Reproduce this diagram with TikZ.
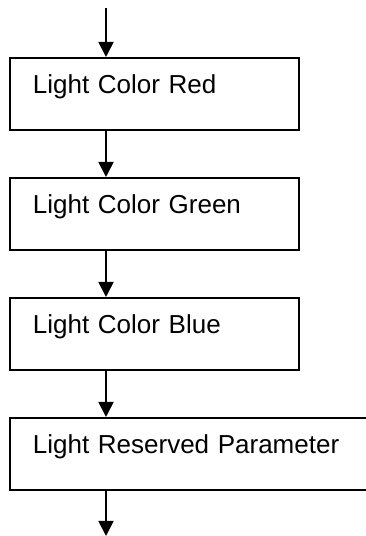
\documentclass[tikz,border=0pt]{standalone}
\usepackage{fontspec}
\setmainfont{Liberation Sans}
\usetikzlibrary{arrows.meta}
\tikzset{
  stepbox/.style={draw=black, line width=1.8pt, rectangle, anchor=north west,
    minimum height=72pt, inner xsep=23pt, inner ysep=0pt, align=left,
    text height=19pt, text depth=19pt,
    font=\fontsize{26}{30}\selectfont},
  arr/.style={draw=black, line width=1.8pt, -{Triangle[length=15pt,width=15pt]}}
}
\begin{document}
\begin{tikzpicture}[x=1pt,y=1pt]
\useasboundingbox (0,0) rectangle (366,536);
\node[stepbox, text width=243pt] (b1) at (9,479) {Light Color Red};
\node[stepbox, text width=243pt] (b2) at (9,359) {Light Color Green};
\node[stepbox, text width=243pt] (b3) at (9,239) {Light Color Blue};
\node[stepbox, text width=317pt] (b4) at (9,119) {Light Reserved Parameter};
\coordinate (start) at (106,528);
\coordinate (finish) at (106,0);
\draw[arr] (start) -- ([xshift=97pt]b1.north west);
\draw[arr] ([xshift=97pt]b1.south west) -- ([xshift=97pt]b2.north west);
\draw[arr] ([xshift=97pt]b2.south west) -- ([xshift=97pt]b3.north west);
\draw[arr] ([xshift=97pt]b3.south west) -- ([xshift=97pt]b4.north west);
\draw[arr] ([xshift=97pt]b4.south west) -- (finish);
\end{tikzpicture}
\end{document}
